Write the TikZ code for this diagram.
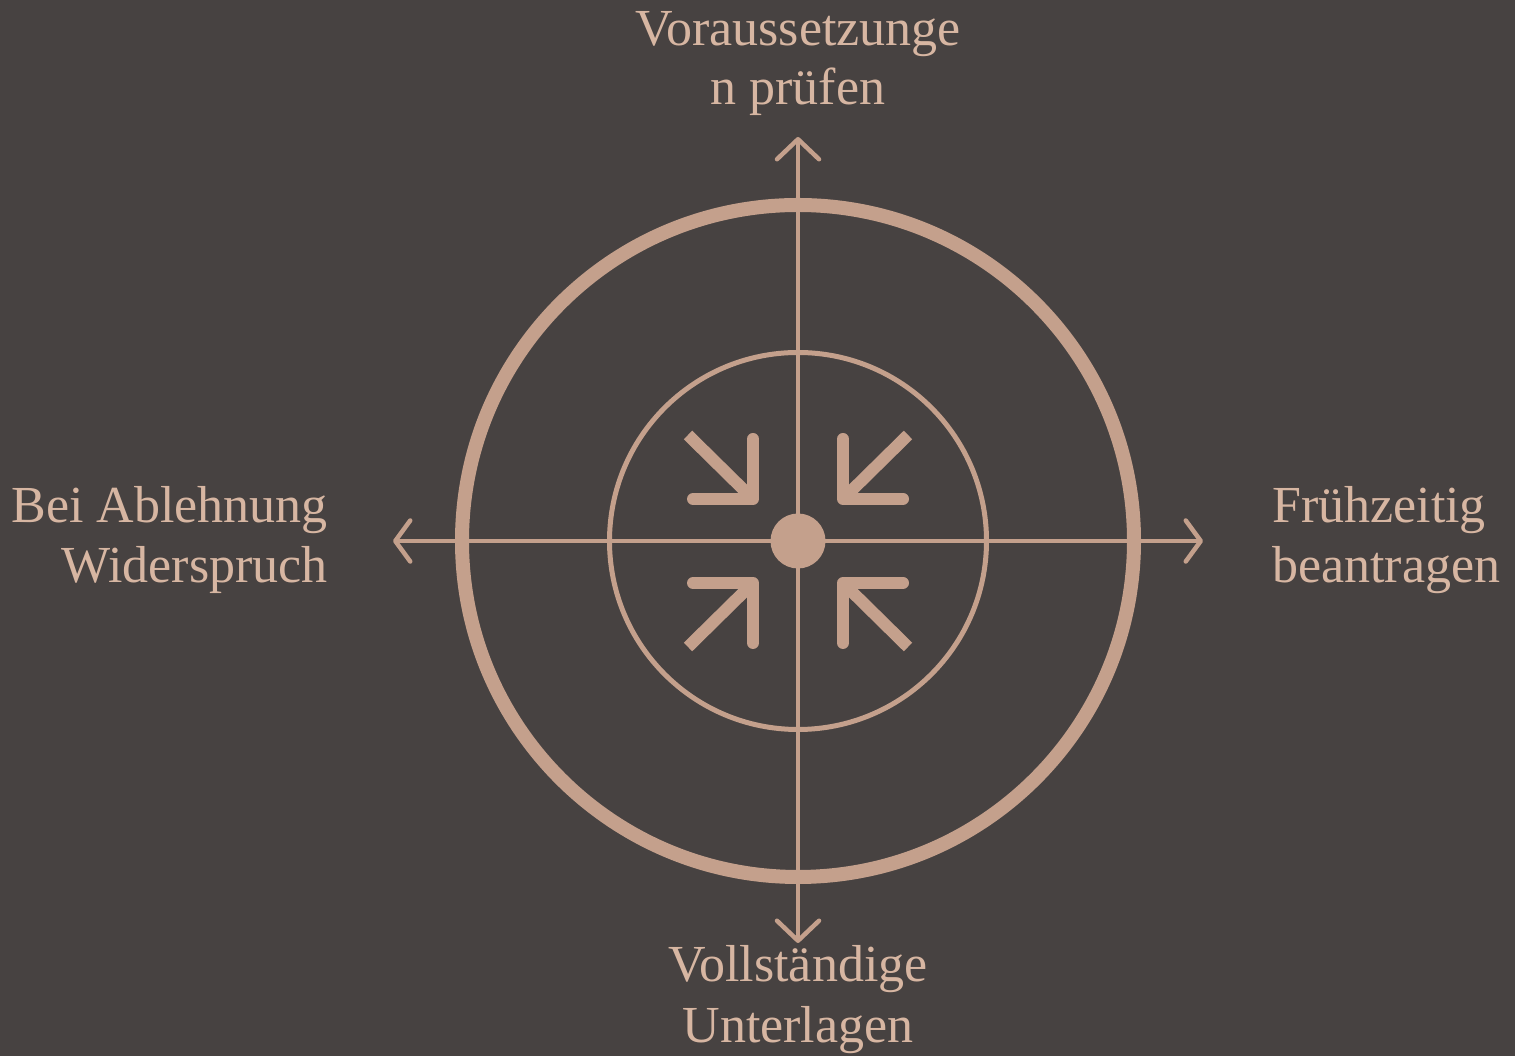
\documentclass[tikz,border=0pt]{standalone}
\usepackage{fontspec}
\setmainfont{Liberation Serif}
\usetikzlibrary{arrows.meta,calc}
\definecolor{bgc}{HTML}{474241}
\definecolor{linec}{HTML}{C4A08C}
\definecolor{textc}{HTML}{D7B6A2}
\tikzset{
  lbl/.style={text=textc, font=\fontsize{52}{60}\selectfont, inner sep=0pt, anchor=base},
  axisv/.style={draw=linec, line width=4pt, {Straight Barb[length=20pt,width=42pt,line width=4.5pt,round]}-{Straight Barb[length=20pt,width=42pt,line width=4.5pt,round]}},
  axish/.style={draw=linec, line width=4pt, {Straight Barb[length=15pt,width=41pt,line width=4.5pt,round]}-{Straight Barb[length=15pt,width=41pt,line width=4.5pt,round]}},
  inshaft/.style={draw=linec, line width=12pt, line cap=butt},
  inhead/.style={draw=linec, line width=12pt, line cap=round, line join=round},
}
\begin{document}
\begin{tikzpicture}[x=1pt,y=1pt]
\fill[bgc] (0,0) rectangle (1515,1056);
\useasboundingbox (0,0) rectangle (1515,1056);
\coordinate (c) at (798,515);
% circles
\draw[linec, line width=14pt] (c) circle[radius=336];
\draw[linec, line width=5pt] (c) circle[radius=188.5];
% axes
\coordinate (axT) at (798,919);
\coordinate (axB) at (798,113);
\coordinate (axL) at (393,515);
\coordinate (axR) at (1203,515);
\draw[axisv] (axB) -- (axT);
\draw[axish] (axL) -- (axR);
% center dot
\node[circle, fill=linec, minimum size=55pt, inner sep=0pt] (dot) at (c) {};
% inward arrows
\foreach \sx/\sy/\nm in {-1/1/tl, 1/1/tr, -1/-1/bl, 1/-1/br}{
  \coordinate (\nm corner) at ($(c)+(\sx*45,\sy*42)$);
  \coordinate (\nm start) at ($(c)+(\sx*110,\sy*106)$);
  \coordinate (\nm armh) at ($(c)+(\sx*105,\sy*42)$);
  \coordinate (\nm armv) at ($(c)+(\sx*45,\sy*102)$);
  \draw[inshaft] (\nm start) -- (\nm corner);
  \draw[inhead] (\nm armh) -- (\nm corner) -- (\nm armv);
}
% labels
\node[lbl] (t1) at (798,1010) {Voraussetzunge};
\node[lbl] (t2) at (798,951) {n prüfen};
\node[lbl] (b1) at (798,74) {Vollständige};
\node[lbl] (b2) at (798,13) {Unterlagen};
\node[lbl, anchor=base east] (l1) at (328,533) {Bei Ablehnung};
\node[lbl, anchor=base east] (l2) at (328,473) {Widerspruch};
\node[lbl, anchor=base west] (r1) at (1272,533) {Frühzeitig};
\node[lbl, anchor=base west] (r2) at (1272,473) {beantragen};
\end{tikzpicture}
\end{document}
